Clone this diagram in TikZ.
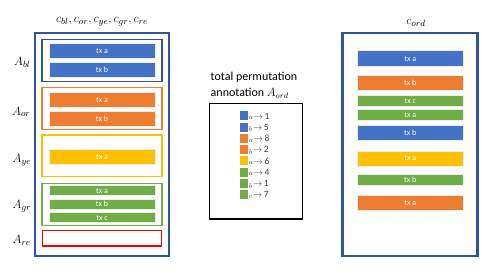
\documentclass[tikz,border=0pt]{standalone}
\usepackage{fontspec}
\setmainfont{Carlito}
\begin{document}
\begin{tikzpicture}[x=1pt,y=-1pt,
  outerbox/.style={draw=cdark,line width=2.8pt},
  grp/.style={line width=1.4pt},
  bar/.style={draw=white!85!gray,line width=0.4pt,minimum width=106pt,inner sep=0pt,text=white,font=\fontsize{8}{8}\selectfont},
  lab/.style={anchor=west,inner sep=0pt,font=\fontsize{13}{13}\selectfont},
  sq/.style={minimum width=8.5pt,minimum height=9pt,inner sep=0pt,anchor=west},
  lt/.style={anchor=west,inner sep=0pt,text=cgray,font=\fontsize{9.5}{9.5}\selectfont}]
\definecolor{cdark}{HTML}{2F5597}
\definecolor{cblue}{HTML}{4472C4}
\definecolor{corange}{HTML}{ED7D31}
\definecolor{cyellow}{HTML}{FFC000}
\definecolor{cgreen}{HTML}{70AD47}
\definecolor{cred}{HTML}{FF0000}
\definecolor{cgray}{HTML}{404040}
\useasboundingbox (0,0) rectangle (498,280);
% left column
\node[font=\fontsize{13}{13}\selectfont] (hl) at (102,22) {$c_{bl},c_{or},c_{ye},c_{gr},c_{re}$};
\draw[outerbox] (35,33) rectangle (169,256);
\draw[grp,draw=cdark] (42,39.3) rectangle (162,81.7);
\draw[grp,draw=corange] (42,87.3) rectangle (162,129.7);
\draw[grp,draw=cyellow] (42,135) rectangle (162,176.7);
\draw[grp,draw=cgreen] (42,183.3) rectangle (162,225.3);
\draw[grp,draw=cred] (42.7,230.7) rectangle (161.7,246);
\node[bar,fill=cblue,minimum height=15pt] (bla) at (102,50.8) {tx a};
\node[bar,fill=cblue,minimum height=15pt] (blb) at (102,70.2) {tx b};
\node[bar,fill=corange,minimum height=15pt] (ora) at (102,100.2) {tx a};
\node[bar,fill=corange,minimum height=14.7pt] (orb) at (102,118.7) {tx b};
\node[bar,fill=cyellow,minimum height=14.7pt] (yea) at (102,156.7) {tx a};
\node[bar,fill=cgreen,minimum height=10pt] (gra) at (102,190.7) {tx a};
\node[bar,fill=cgreen,minimum height=10pt] (grb) at (102,204.2) {tx b};
\node[bar,fill=cgreen,minimum height=10pt] (grc) at (102,217.7) {tx c};
\node[lab] (Abl) at (14,62.5) {$A_{bl}$};
\node[lab] (Aor) at (12,112) {$A_{or}$};
\node[lab] (Aye) at (12.5,160.5) {$A_{ye}$};
\node[lab] (Agr) at (12.5,206) {$A_{gr}$};
\node[lab] (Are) at (12.5,240.5) {$A_{re}$};
% middle
\node[anchor=west,inner sep=0pt,font=\fontsize{12}{12}\selectfont] (t1) at (210.5,77) {total permutation};
\node[anchor=west,inner sep=0pt,font=\fontsize{12}{12}\selectfont] (t2) at (210.5,93) {annotation $A_{ord}$};
\draw[line width=1.3pt,black] (209.3,103.3) rectangle (302.3,219);
\foreach \c/\s/\n [count=\i from 0] in {cblue/a/1,cblue/b/5,corange/a/8,corange/b/2,cyellow/a/6,cgreen/a/4,cgreen/b/1,cgreen/c/7}{
  \node[sq,fill=\c] (s\i) at (239.3,116+11.25*\i) {};
  \node[lt] (l\i) at ([xshift=0.5pt,yshift=-2.2pt]s\i.east) {$\scriptstyle \s$};
  \node[lt] (r\i) at ([xshift=0.2pt,yshift=2.2pt]l\i.east) {$\rightarrow$\,\n};
}
% right column
\node[font=\fontsize{13}{13}\selectfont] (hr) at (416,23) {$c_{ord}$};
\draw[outerbox] (342.7,33) rectangle (477.3,256);
\node[bar,fill=cblue,minimum height=16pt] (oa) at (410.3,58.7) {tx a};
\node[bar,fill=corange,minimum height=15pt] (ob) at (410.3,83.2) {tx b};
\node[bar,fill=cgreen,minimum height=10.7pt] (oc) at (410.3,100.7) {tx c};
\node[bar,fill=cgreen,minimum height=10.7pt] (od) at (410.3,114.7) {tx a};
\node[bar,fill=cblue,minimum height=15.7pt] (oe) at (410.3,132.8) {tx b};
\node[bar,fill=cyellow,minimum height=15pt] (of) at (410.3,158.5) {tx a};
\node[bar,fill=cgreen,minimum height=10.7pt] (og) at (410.3,179.7) {tx b};
\node[bar,fill=corange,minimum height=15.7pt] (oh) at (410.3,202.8) {tx a};
\end{tikzpicture}
\end{document}
